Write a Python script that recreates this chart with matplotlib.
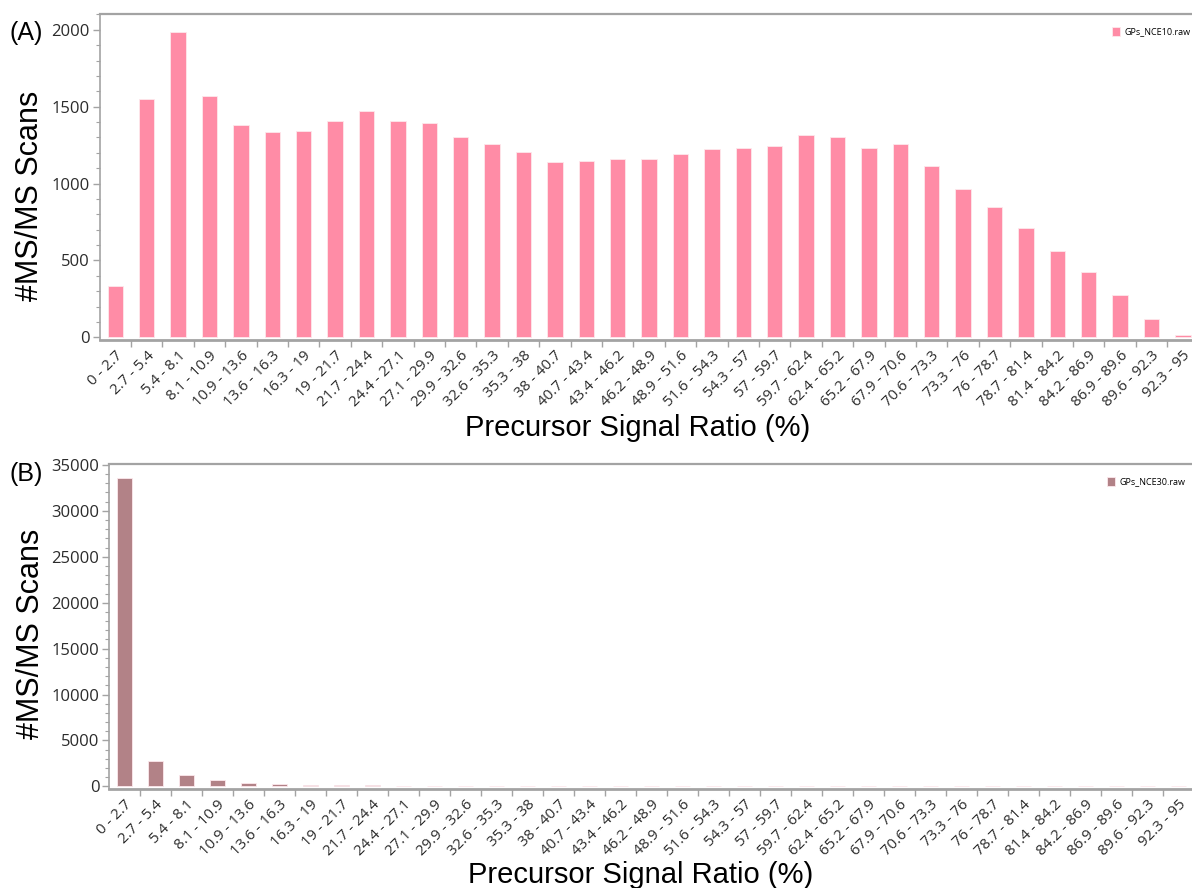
import numpy as np
import matplotlib
matplotlib.use("Agg")
import matplotlib.pyplot as plt
from matplotlib.ticker import MultipleLocator
from matplotlib.transforms import ScaledTranslation

# bins of the precursor signal ratio (%)
bordes = ["0", "2.7", "5.4", "8.1", "10.9", "13.6", "16.3", "19", "21.7", "24.4",
          "27.1", "29.9", "32.6", "35.3", "38", "40.7", "43.4", "46.2", "48.9",
          "51.6", "54.3", "57", "59.7", "62.4", "65.2", "67.9", "70.6", "73.3",
          "76", "78.7", "81.4", "84.2", "86.9", "89.6", "92.3", "95"]
etiquetas = [f"{a} - {b}" for a, b in zip(bordes[:-1], bordes[1:])]

# number of MS/MS scans per bin
scans_nce10 = [331, 1550, 1983, 1572, 1383, 1333, 1342, 1408, 1473, 1404,
               1391, 1305, 1258, 1206, 1142, 1146, 1161, 1161, 1191, 1223,
               1234, 1245, 1316, 1305, 1234, 1258, 1114, 966, 847, 712,
               561, 424, 275, 120, 15]
scans_nce30 = [33620, 2790, 1240, 660, 360, 250, 185, 180, 115, 70,
               60, 60, 60, 0, 70, 0, 0, 0, 0, 0,
               0, 0, 0, 0, 0, 0, 0, 0, 0, 0,
               0, 0, 0, 0, 0]

color_10 = "#ff8ca6"
color_30 = "#b28287"
gris = "#a3a3a3"
texto = "#2b2b2b"

fig = plt.figure(figsize=(11.92, 8.88), dpi=100)
corrimiento = ScaledTranslation(-0.07, 0, fig.dpi_scale_trans)

def panel(pos, valores, color, leyenda, ymax, ymin, mayor, menor):
    ax = fig.add_axes(pos)
    x = np.arange(len(valores))
    ax.bar(x, valores, width=0.49, color=color, edgecolor="#fde8ec",
           linewidth=0.6, label=leyenda)
    ax.set_xlim(-0.5, len(valores) - 0.5)
    ax.set_ylim(ymin, ymax)
    ax.yaxis.set_major_locator(MultipleLocator(mayor))
    ax.yaxis.set_minor_locator(MultipleLocator(menor))
    # ticks sit between the bars, labels under each bar
    ax.set_xticks(x + 0.5, minor=False)
    ax.set_xticklabels([])
    ax.set_xticks(x, minor=True)
    ax.set_xticklabels(etiquetas, minor=True, rotation=45, ha="right",
                       rotation_mode="anchor", fontsize=10.8, color=texto,
                       family="Open Sans")
    for lab in ax.get_xticklabels(minor=True):
        lab.set_transform(lab.get_transform() + corrimiento)
    ax.tick_params(axis="x", which="major", length=5, color=gris, width=1)
    ax.tick_params(axis="x", which="minor", length=0, pad=6)
    ax.tick_params(axis="y", which="major", length=5, color=gris, width=1,
                   labelsize=12, labelcolor=texto, pad=2)
    ax.tick_params(axis="y", which="minor", length=3, color=gris, width=0.8)
    for lab in ax.get_yticklabels():
        lab.set_family("Open Sans")
    ax.spines["right"].set_visible(False)
    for s in ["left", "bottom", "top"]:
        ax.spines[s].set_color(gris)
    ax.spines["bottom"].set_linewidth(2)
    ax.spines["top"].set_linewidth(1.6)
    ax.spines["left"].set_linewidth(1.2)
    ax.set_ylabel("#MS/MS Scans", fontsize=22, family="Liberation Sans")
    ax.set_xlabel("Precursor Signal Ratio (%)", fontsize=21,
                  family="Liberation Sans", va="baseline")
    ax.legend(loc="upper right", bbox_to_anchor=(1.0, 0.985), frameon=False,
              handlelength=0.9, handleheight=1.1, handletextpad=0.5,
              prop={"family": "Open Sans", "size": 6.5})
    return ax

ax1 = panel([0.0835, 0.6175, 0.922, 0.3667], scans_nce10, color_10,
            "GPs_NCE10.raw", 2103, -15, 500, 100)
ax2 = panel([0.0915, 0.1115, 0.910, 0.366], scans_nce30, color_30,
            "GPs_NCE30.raw", 35100, -280, 5000, 1000)

ax1.yaxis.set_label_coords(-0.050, 0.441)
ax2.yaxis.set_label_coords(-0.058, 0.477)
ax1.xaxis.set_label_coords(0.49, -0.296)
ax2.xaxis.set_label_coords(0.49, -0.288)

fig.text(0.008, 0.963, "(A)", fontsize=18, family="Liberation Sans",
         va="center", ha="left")
fig.text(0.008, 0.466, "(B)", fontsize=18, family="Liberation Sans",
         va="center", ha="left")

fig.savefig("out.png", dpi=100, facecolor="white")
